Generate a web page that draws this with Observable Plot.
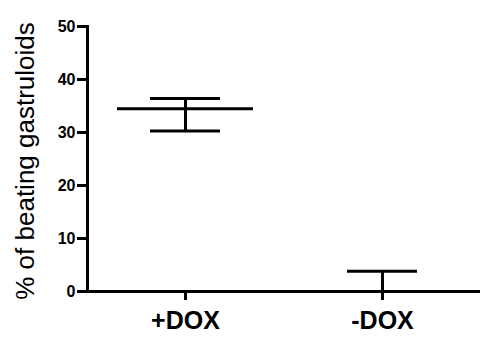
<!DOCTYPE html>
<html>
<head>
<meta charset="utf-8">
<script src="https://cdn.jsdelivr.net/npm/d3@7"></script>
<script src="https://cdn.jsdelivr.net/npm/@observablehq/plot@0.6"></script>
<style>
  html, body { margin: 0; padding: 0; background: #fff; }
  #chart svg { display: block; }
</style>
</head>
<body>
<div id="chart"></div>
<script>
const categories = ["+DOX", "-DOX"];
const means = [34.5, 0];
const upper = [36.4, 3.8];
const lower = [30.3, 0];
const yTicks = [0, 10, 20, 30, 40, 50];
const yLabel = "% of beating gastruloids";

const data = categories.map((c, i) => ({cat: c, mean: means[i], hi: upper[i], lo: lower[i]}));
const font = "Liberation Sans, Arial, Helvetica, sans-serif";

const chart = Plot.plot({
  width: 494,
  height: 349,
  marginTop: 26,
  marginBottom: 58,
  marginLeft: 87,
  marginRight: 14,
  style: {fontFamily: font, color: "black", background: "white"},
  x: {type: "band", domain: categories, paddingInner: 0.31, paddingOuter: 0.15, axis: null},
  y: {domain: [0, 50], axis: null},
  marks: [
    Plot.axisY({ticks: yTicks, tickSize: 10, tickPadding: 2, strokeWidth: 3, fontSize: 16, fontWeight: "bold", fill: "black", stroke: "black", label: null}),
    Plot.axisX({tickSize: 9, tickPadding: 11, strokeWidth: 3, fontSize: 25, fontWeight: "bold", fill: "black", stroke: "black", label: null}),
    Plot.frame({anchor: "left", stroke: "black", strokeWidth: 3}),
    Plot.ruleY([0], {stroke: "black", strokeWidth: 3}),
    Plot.ruleX(data, {x: "cat", y1: "lo", y2: "hi", stroke: "black", strokeWidth: 3}),
    Plot.tickY(data, {x: "cat", y: "hi", stroke: "black", strokeWidth: 3, insetLeft: 33, insetRight: 33}),
    Plot.tickY(data, {x: "cat", y: "lo", stroke: "black", strokeWidth: 3, insetLeft: 33, insetRight: 33}),
    Plot.tickY(data, {x: "cat", y: "mean", stroke: "black", strokeWidth: 3}),
    Plot.text([yLabel], {text: d => d, frameAnchor: "left", dx: -62, dy: 2, rotate: -90, fontSize: 26, fill: "black", textAnchor: "middle"})
  ]
});
document.getElementById("chart").appendChild(chart);
</script>
</body>
</html>
